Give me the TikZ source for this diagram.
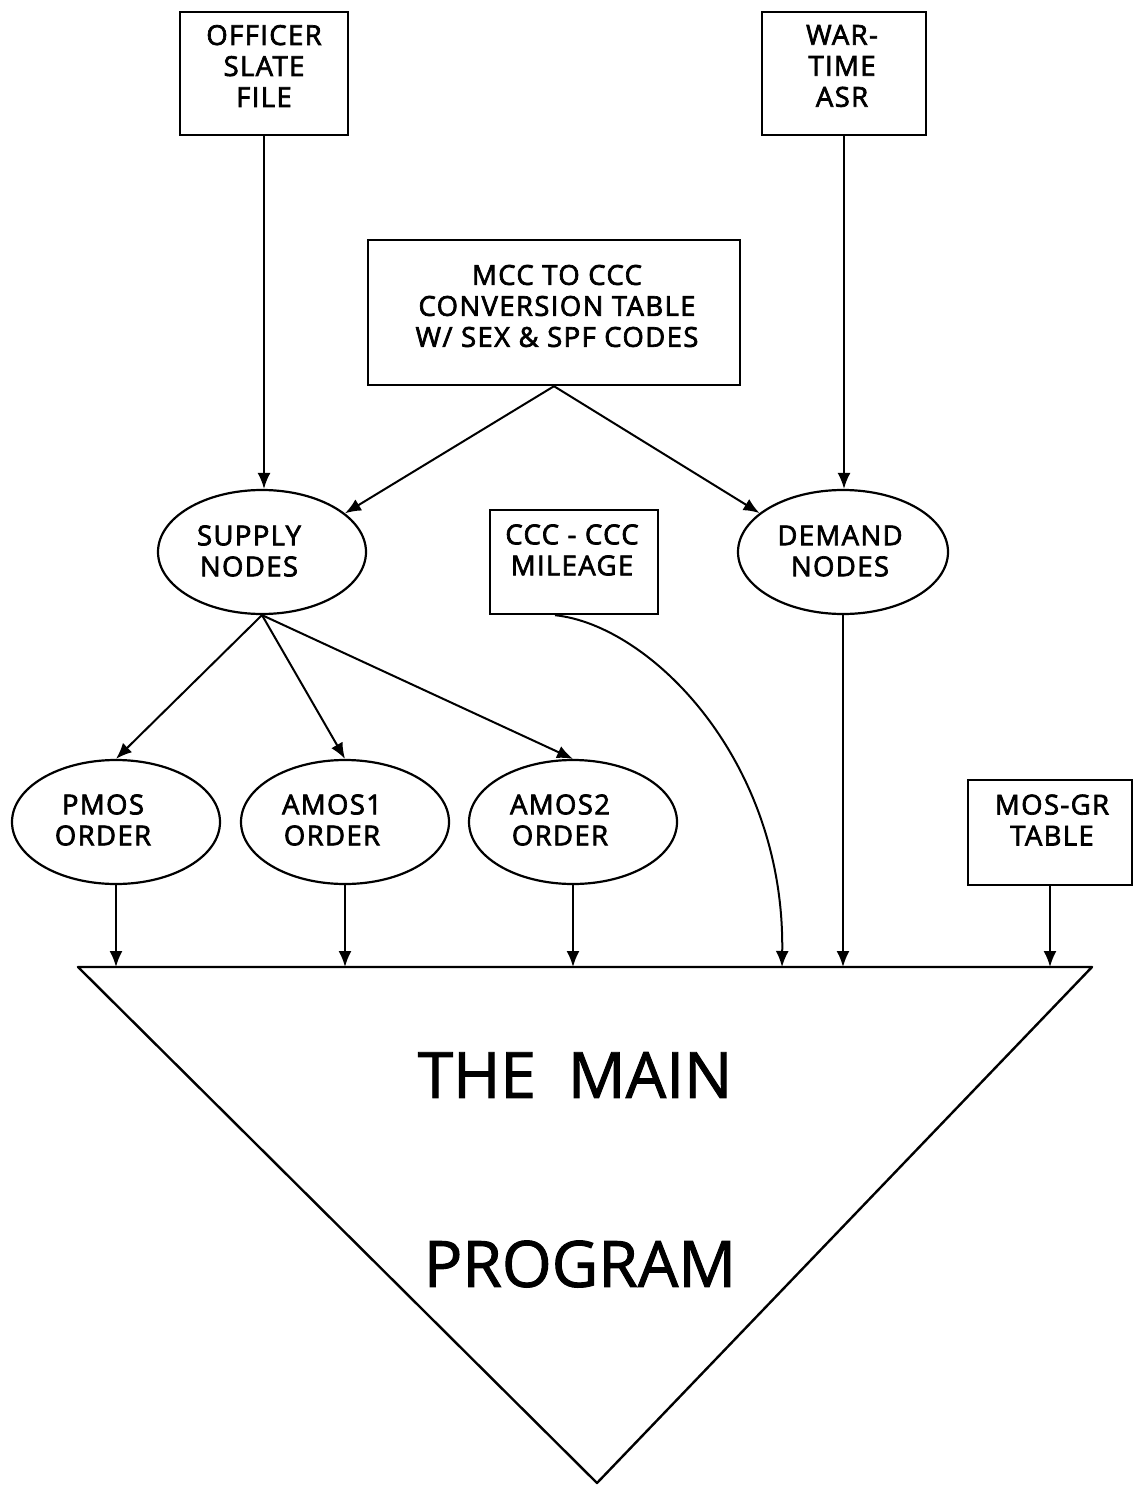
\documentclass[tikz,border=0pt]{standalone}
\usepackage{fontspec}
\setmainfont{Open Sans}
\newfontfamily\lblfont{Open Sans}[LetterSpace=5,FakeBold=2.5]
\newfontfamily\bigfont{Open Sans}[FakeBold=1.5]
\usetikzlibrary{shapes.geometric,arrows.meta}
\begin{document}
\begin{tikzpicture}[x=1pt,y=-1pt,
  box/.style={draw,line width=2.4pt,inner sep=0pt},
  oval/.style={draw,ellipse,line width=2.2pt,minimum width=208pt,minimum height=124pt,inner sep=0pt},
  lbl/.style={align=center,inner sep=0pt,font=\lblfont\fontsize{27.5}{31}\selectfont},
  arr/.style={line width=2pt,-{Latex[length=16pt,width=13pt]}},
  big/.style={font=\bigfont\fontsize{64}{64}\selectfont}]
\useasboundingbox (0,0) rectangle (1132,1487);
% boxes
\node[box,minimum width=168pt,minimum height=123pt] (osf) at (264,73.5) {};
\node[lbl] (osf-t) at (264,66) {OFFICER\\SLATE\\FILE};
\node[box,minimum width=164pt,minimum height=123pt] (wta) at (844,73.5) {};
\node[lbl] (wta-t) at (842,66) {WAR-\\TIME\\ASR};
\node[box,minimum width=372pt,minimum height=145pt] (mcc) at (554,312.5) {};
\node[lbl] (mcc-t) at (557,306) {MCC TO CCC\\CONVERSION TABLE\\W/ SEX \& SPF CODES};
\node[box,minimum width=168pt,minimum height=104pt] (mil) at (574,562) {};
\node[lbl] (mil-t) at (572,550) {CCC - CCC\\MILEAGE};
\node[box,minimum width=164pt,minimum height=105pt] (mgr) at (1050,832.5) {};
\node[lbl] (mgr-t) at (1052,820) {MOS-GR\\TABLE};
% ellipses
\node[oval] (sup) at (262,552) {};
\node[lbl] (sup-t) at (249,551) {SUPPLY\\NODES};
\node[oval,minimum width=210pt] (dem) at (843,552) {};
\node[lbl] (dem-t) at (840,551) {DEMAND\\NODES};
\node[oval] (pmos) at (116,822) {};
\node[lbl] (pmos-t) at (103,820) {PMOS\\ORDER};
\node[oval] (am1) at (345,822) {};
\node[lbl] (am1-t) at (332,820) {AMOS1\\ORDER};
\node[oval] (am2) at (573,822) {};
\node[lbl] (am2-t) at (560,820) {AMOS2\\ORDER};
% main program triangle
\coordinate (tl) at (78,967);
\coordinate (tr) at (1092,967);
\coordinate (ap) at (597,1483);
\draw[line width=2.4pt,line join=round] (tl) -- (tr) -- (ap) -- cycle;
\node[big] (t1) at (575,1075) {THE\hspace{32pt}MAIN};
\node[big] (t2) at (580,1264) {PROGRAM};
% connectors
\draw[arr] (osf.south) -- (osf.south |- sup.north);
\draw[arr] (wta.south) -- (wta.south |- dem.north);
\draw[arr] (mcc.south) -- (sup.25);
\draw[arr] (mcc.south) -- (dem.155);
\draw[arr] (sup.south) -- (pmos.north);
\draw[arr] (sup.south) -- (am1.north);
\draw[arr] (sup.south) -- (am2.north);
\draw[arr] (pmos.south) -- (pmos.south |- tl);
\draw[arr] (am1.south) -- (am1.south |- tl);
\draw[arr] (am2.south) -- (am2.south |- tl);
\coordinate (cm) at (782,967);
\draw[arr] ([xshift=-19pt]mil.south) .. controls (650,625) and (785,760) .. (cm);
\draw[arr] (dem.south) -- (dem.south |- tl);
\draw[arr] (mgr.south) -- (mgr.south |- tl);
\end{tikzpicture}
\end{document}
